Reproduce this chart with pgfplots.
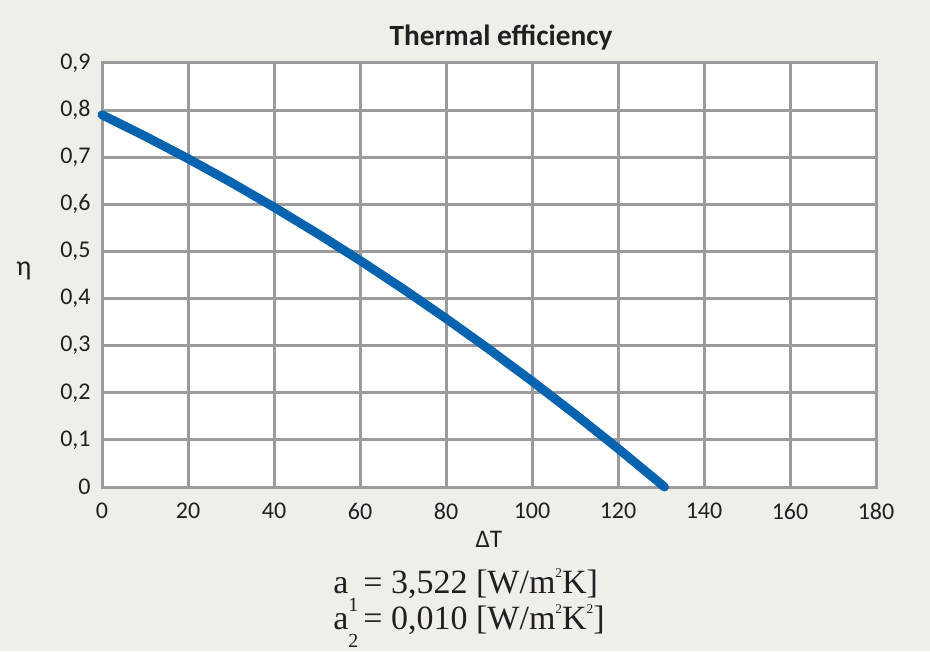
\documentclass[border=0pt]{standalone}
\usepackage{fontspec}
\setmainfont{Carlito}
\newfontfamily\timesfont{Liberation Serif}
\usepackage{pgfplots}
\pgfplotsset{compat=1.18}
\definecolor{bgc}{RGB}{239,239,234}
\definecolor{gridc}{RGB}{155,155,157}
\definecolor{curvec}{RGB}{5,99,176}
\definecolor{txtc}{RGB}{35,31,32}
\begin{document}
\begin{tikzpicture}
\fill[bgc] (0,0) rectangle (697.5pt,488.25pt);
\useasboundingbox (0,0) rectangle (697.5pt,488.25pt);
\begin{axis}[
  at={(76.5pt,123pt)}, anchor=south west,
  scale only axis, width=580.5pt, height=318pt,
  xmin=0, xmax=180, ymin=0, ymax=0.9,
  xtick={0,20,40,60,80,100,120,140,160,180},
  ytick={0,0.1,0.2,0.3,0.4,0.5,0.6,0.7,0.8,0.9},
  major tick length=0pt,
  grid=major,
  major grid style={gridc, line width=2.25pt},
  axis line style={gridc, line width=2.25pt},
  axis background/.style={fill=white},
  clip=false,
  /pgf/number format/.cd, use comma, fixed, precision=1, assume math mode=true,
  /pgfplots/.cd,
  ticklabel style={font=\fontsize{18}{20}\selectfont, text=txtc},
  yticklabel style={xshift=-5pt},
  xticklabel style={yshift=-8.5pt},
  xlabel={ΔT},
  xlabel style={font=\fontsize{19}{21}\selectfont, text=txtc, yshift=-2pt},
]
\addplot[curvec, line width=6.75pt, line cap=round, line join=round] coordinates {
(0,0.790) (10,0.7447) (20,0.6970) (30,0.6467) (40,0.5939) (50,0.5386)
(60,0.4809) (70,0.4206) (80,0.3578) (90,0.2925) (100,0.2248)
(110,0.1545) (120,0.0817) (130,0.0064) (130.8,0)
};
\end{axis}
\node[font=\fontsize{22}{24}\selectfont\bfseries, text=txtc] at (375.75pt,460.5pt) {Thermal efficiency};
\node[font=\fontsize{21}{23}\selectfont, text=txtc] at (18pt,285pt) {η};
\node[anchor=base west, inner sep=0pt, font=\timesfont\fontsize{25.5}{27}\selectfont, text=txtc] at (249.75pt,43.5pt)
  {a\raisebox{-0.55em}{\fontsize{15}{15}\selectfont 1}\hspace{0.15em}= 3,522 [W/m\raisebox{0.45em}{\fontsize{10}{10}\selectfont 2}K]};
\node[anchor=base west, inner sep=0pt, font=\timesfont\fontsize{25.5}{27}\selectfont, text=txtc] at (249.75pt,16.5pt)
  {a\raisebox{-0.55em}{\fontsize{15}{15}\selectfont 2}\hspace{0.15em}= 0,010 [W/m\raisebox{0.45em}{\fontsize{10}{10}\selectfont 2}K\raisebox{0.45em}{\fontsize{10}{10}\selectfont 2}]};
\end{tikzpicture}
\end{document}
